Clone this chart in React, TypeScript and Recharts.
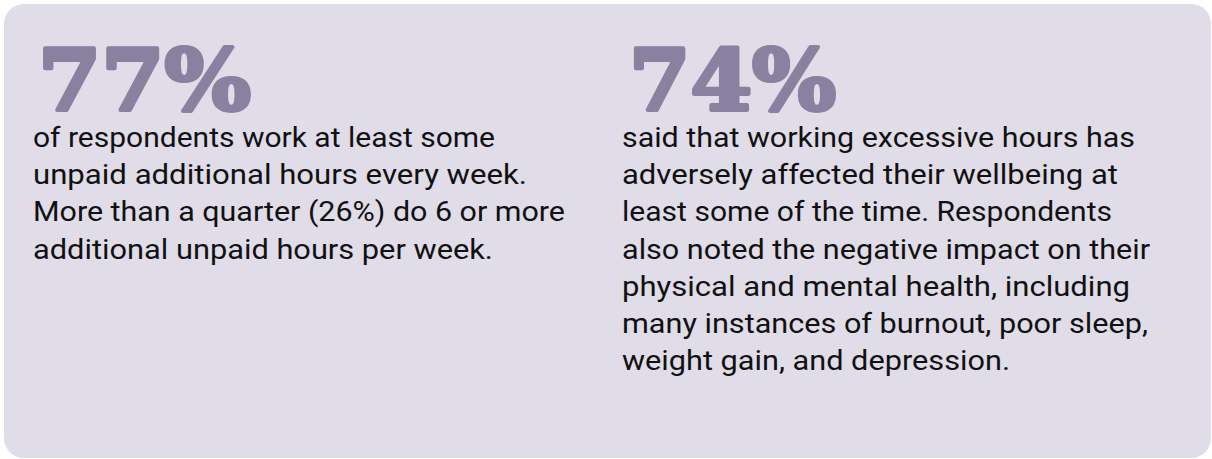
import { Surface, Rectangle } from 'recharts';

// headline stats and the caption lines under each one
const stats = ['77%', '74%'];
const leftLines = [
  'of respondents work at least some',
  'unpaid additional hours every week.',
  'More than a quarter (26%) do 6 or more',
  'additional unpaid hours per week.',
];
const rightLines = [
  'said that working excessive hours has',
  'adversely affected their wellbeing at',
  'least some of the time. Respondents',
  'also noted the negative impact on their',
  'physical and mental health, including',
  'many instances of burnout, poor sleep,',
  'weight gain, and depression.',
];

// measured line lengths (px) so the text sets like the original
const statWidths = [213, 207];
const leftWidths = [462, 494, 532, 460];
const rightWidths = [513, 496, 490, 528, 508, 526, 388];

const W = 1212;
const H = 459;
const columns = [
  { x: 33, statX: 38, lines: leftLines, widths: leftWidths },
  { x: 622, statX: 629, lines: rightLines, widths: rightWidths },
];

const App = () => {
  return (
    <div style={{ position: 'absolute', left: 0, top: 0, width: W, height: H }}>
      <Surface width={W} height={H}>
        <Rectangle x={4} y={4} width={1207} height={454} radius={20} fill="#e0dce8" />
        {columns.map((col, i) => (
          <g key={i}>
            <text
              x={col.statX}
              y={110}
              fontFamily="DejaVu Serif"
              fontWeight={700}
              fontSize={84}
              fill="#8a80a0"
              stroke="#8a80a0"
              strokeWidth={4}
              strokeLinejoin="round"
              textLength={statWidths[i]}
              lengthAdjust="spacingAndGlyphs"
            >
              {stats[i]}
            </text>
            {col.lines.map((line, j) => (
              <text
                key={j}
                x={col.x}
                y={147 + j * 37.2}
                fontFamily="Roboto"
                fontSize={28}
                fill="#111111"
                textLength={col.widths[j]}
                lengthAdjust="spacingAndGlyphs"
              >
                {line}
              </text>
            ))}
          </g>
        ))}
      </Surface>
    </div>
  );
};

export default App;
